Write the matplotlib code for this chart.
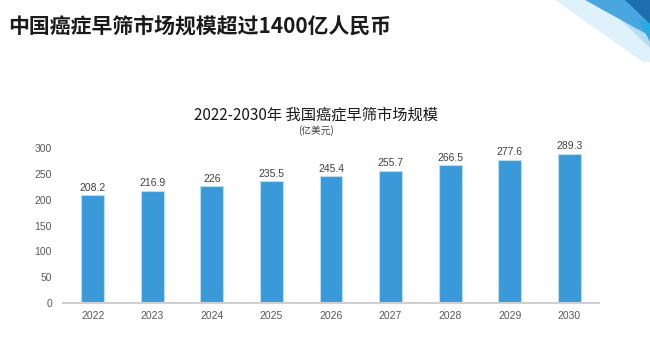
import matplotlib
matplotlib.use('Agg')
import matplotlib.pyplot as plt
from matplotlib.patches import Polygon

plt.rcParams['font.family'] = ['Noto Sans CJK SC', 'DejaVu Sans']

years = ['2022', '2023', '2024', '2025', '2026', '2027', '2028', '2029', '2030']
market = [208.2, 216.9, 226, 235.5, 245.4, 255.7, 266.5, 277.6, 289.3]
labels = ['208.2', '216.9', '226', '235.5', '245.4', '255.7', '266.5', '277.6', '289.3']

W, H = 650, 344
fig = plt.figure(figsize=(6.5, 3.44), dpi=100)


def px(points):
    # pixel coords (y down) -> figure fraction
    return [(x / W, 1 - y / H) for x, y in points]


# corner decoration, top right
shapes = [
    ([(555, 0), (650, 0), (650, 62), (643, 62)], '#dff1fa'),
    ([(600, 0), (650, 0), (650, 48)], '#b5def2'),
    ([(585, 0), (628, 0), (650, 22), (650, 36)], '#4aa6de'),
    ([(625, 0), (650, 0), (650, 24)], '#1d6fae'),
    ([(638, 18), (650, 24), (650, 42)], '#2aa9e2'),
]
for pts, c in shapes:
    fig.patches.append(Polygon(px(pts), closed=True, transform=fig.transFigure,
                               facecolor=c, edgecolor='none', zorder=0))

fig.text(8 / W, 1 - 26 / H, '中国癌症早筛市场规模超过1400亿人民币',
         fontsize=15, fontweight='bold', color='#1a1a1a', va='center', ha='left')

ax = fig.add_axes([63 / W, 1 - 303 / H, (599 - 63) / W, (303 - 148) / H])
ax.bar(range(len(years)), market, width=0.385, color='#3a9ad9',
       edgecolor='#b8def4', linewidth=0.8, zorder=2)
for i, (v, t) in enumerate(zip(market, labels)):
    ax.text(i, v + 5, t, ha='center', va='bottom', fontsize=7.5,
            color='#404040', family=['Liberation Sans', 'DejaVu Sans'])

ax.set_xlim(-0.5, 8.5)
ax.set_ylim(0, 300)
ax.set_yticks(range(0, 301, 50))
ax.set_xticks(range(len(years)))
ax.set_xticklabels(years)
for s in ['top', 'right', 'left']:
    ax.spines[s].set_visible(False)
ax.spines['bottom'].set_color('#d0d0d0')
ax.spines['bottom'].set_linewidth(1.5)
ax.tick_params(axis='both', length=0, labelsize=7.5, colors='#595959')
ax.tick_params(axis='x', pad=6)
ax.tick_params(axis='y', pad=8)
for lab in ax.get_xticklabels() + ax.get_yticklabels():
    lab.set_family(['Liberation Sans', 'DejaVu Sans'])

fig.text(316 / W, 1 - 115 / H, '2022-2030年 我国癌症早筛市场规模',
         fontsize=11, color='#1a1a1a', ha='center', va='center')
fig.text(316 / W, 1 - 131 / H, '(亿美元)',
         fontsize=7, color='#404040', ha='center', va='center')

fig.savefig('out.png', dpi=100)
